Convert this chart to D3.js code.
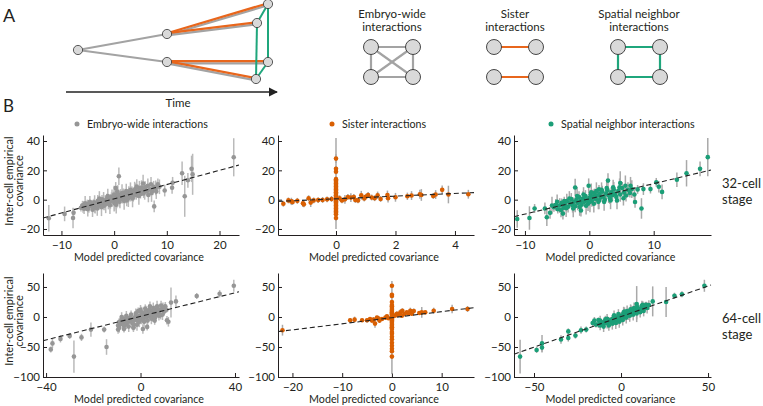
<!DOCTYPE html>
<html><head><meta charset="utf-8">
<script src="https://cdn.jsdelivr.net/npm/d3@7"></script>
<style>body{margin:0;background:#fff} text{font-family:Lato,"Open Sans",sans-serif;fill:#231f20}</style>
</head><body><svg id="c" width="763" height="406"></svg>
<script>
// ---------------- DATA ----------------
const seriesNames = ["Embryo-wide interactions","Sister interactions","Spatial neighbor interactions"];
const stageLabels = [["32-cell","stage"],["64-cell","stage"]];
const xTicks32 = [[-10,0,10,20],[0,2,4],[-10,0,10]];
const xTicks64 = [[-40,0,40],[-20,-10,0,10],[-50,0,50]];
const yTicks32 = [-20,0,20,40];
const yTicks64 = [-100,-50,0,50];
const xAxisTitle = "Model predicted covariance";
const yAxisTitle = ["Inter-cell empirical","covariance"];
// fitted lines [x0,y0,x1,y1]
const fits32 = [[-13.5,-12.5,23.7,23.6],[-1.95,-1.2,4.64,4.8],[-11.7,-11.6,18.9,20.2]];
const fits64 = [[-41.3,-39.5,41.7,42],[-22.9,-24.4,16.5,15.5],[-61.5,-62,51.7,53.3]];
// points: [model predicted, empirical, error half-length]
const embryo32 = [
[-12.4,-12.7,9],[-9.4,-9.7,5],[-7.8,-12.5,7],[-7.7,-9,3],
[-6.3,-5.5,2.5],[-6.0,-3.8,3],[-5.7,-6.2,3.5],[-5.4,-4.5,2.5],[-5.1,-3.0,3],[-4.8,-5.0,4],[-4.5,-2.8,2.5],[-4.3,-4.4,3],[-4.0,-3.5,3.5],[-3.8,-1.8,2.5],[-3.6,-5.5,4],[-3.3,-2.5,3],[-3.1,-0.8,4],[-2.9,-3.9,3],[-2.7,-1.5,2.5],[-2.5,-2.9,3.5],[-2.3,0.2,3],[-2.1,-2.0,4],[-1.9,-4.2,3],[-1.7,-0.5,3.5],[-1.5,-1.8,2.5],[-1.3,1.2,3],[-1.1,-2.6,4],[-0.9,0.0,3],[-0.7,-1.2,5],[-0.5,2.0,3],[-0.3,-0.4,4],[-0.1,1.5,3.5],[0.1,-2.5,4],[0.2,0.8,6],[0.3,8.0,4],[0.4,2.6,3],[0.5,-0.8,5],[0.6,5.5,4],[0.8,1.8,3],[0.9,16,6],[1.0,-1.5,3.5],[1.2,3.2,4],[1.4,0.6,3],[1.6,2.4,5],[1.8,4.6,3],[2.0,1.2,4],[2.2,3.5,3],[2.4,-0.5,4],[2.6,2.8,3],[2.8,5.2,4],[3.0,1.8,3],[3.2,4.0,5],[3.4,6.0,3],[3.6,2.5,4],[3.8,4.8,3],[4.0,7.2,4],[4.2,3.0,3],[4.5,5.5,4],[4.8,7.8,5],[5.0,3.8,3],[5.3,6.5,4],[5.5,11,6],[5.6,4.2,3],[5.9,8.5,4],[6.2,5.8,3],[6.5,3.2,5],[6.8,7.0,4],[7.0,10.5,5],[7.3,6.0,3],[7.6,-4.6,4],[7.9,8.0,5],[8.3,10.4,4],[9.6,6.2,4],
[-5.9,-5,4],[-5.5,-2.5,5],[-5.0,-6.5,5],[-4.6,-1.5,4],[-4.1,-6.8,5],[-3.7,-3.0,6],[-3.2,-6.0,5],[-2.8,0.8,5],[-2.4,-5.2,6],[-2.0,-0.8,6],[-1.6,-3.2,6],[-1.2,2.5,5],[-0.8,-3.8,6],[-0.4,1.0,6],[0.0,-1.0,7],[0.0,3.5,6],[0.1,0.5,8],[0.4,-3.5,6],[0.7,3.8,6],[1.1,0.2,6],[1.5,4.5,6],[1.9,-0.8,6],[2.3,5.8,5],[2.7,1.0,6],[3.1,6.8,5],[3.5,0.8,6],[3.9,6.2,6],[4.3,9.0,5],[4.7,2.5,6],[5.2,8.2,5],[5.8,6.0,6],[6.4,9.5,5],[7.1,4.5,6],[7.5,8.8,4],[8.0,5.5,5],[8.6,8.8,5],
[11,8.1,4],[11.1,11.5,4],[12.9,18,8],[13.4,2.3,14],[14,13.2,5],[14.7,21,9],[14.9,17.3,14],[22.7,28.9,13]];
const sister32 = [
[0,11,31],[0,28,3],[0,21,2],[0,19,2],[0,14,2],[0,13,2],[0,12,2],[0,10,2],[0,9,2],[0,8,2],[0,7,2],[0,6,2],[0,5,2],[0,4,2],[0,3,2],[0,2,2],[0,1,2],[0,0,2],[0,-1,2],[0,-2,2],[0,-3,2],[0,-4,2],[0,-5,2],[0,-6,2],[0,-7,2],[0,-8,2],[0,-9,2],[0,-10,2],[0,-12.5,2],
[-1.77,-2.8,2],[-1.6,-0.5,2],[-1.5,-1.2,2.5],[-1.46,-1.6,2],[-1.3,-0.8,2],[-1.11,-2.5,2.5],[-1.08,-3.2,2],[-0.92,1,2],[-0.85,-2,3],[-0.75,-0.5,2],[-0.6,-0.3,2],[-0.45,-0.2,2],[-0.3,0.2,2],[-0.15,0.5,2],[0.12,1,2],[0.2,-0.5,2],[0.3,0.2,3],[0.4,1.8,2],[0.5,1.4,3],[0.6,1.8,2],[0.65,-0.2,2],[0.74,-0.5,2],[0.85,3,3],[0.95,0.8,2],[1.0,2,2],[1.08,3.2,2],[1.2,1.5,2],[1.3,1,2],[1.4,3,2.5],[1.5,0.5,2],[1.73,3.2,3],[1.75,1,3],[2.0,1.6,3],[2.4,2.3,2.5],[2.54,2.8,3],[2.82,3.7,3],[2.87,3.2,4],[3.27,2.5,2],[3.35,3.5,3],[3.57,6.7,3],[3.78,3.5,6],[4.45,3.7,3]];
const spatial32 = [
[-11.2,-13.2,6],[-9.3,-12.5,8],[-8.5,-6,3],[-6.9,-6,4],[-6.6,-12,6],[-6.1,-9,4],[-5.8,-4,6],[-4.1,-9.5,4],[-3.9,-1,3],[-2.2,8.3,6],[-1.3,-7.4,4],[-0.1,9.5,5],[1.5,7,3],[2.9,13,5],[4.8,11.3,8],[6.4,9.5,6],[7.1,-1.6,4],[7.5,7,3],[8.1,-6,7],[8.4,7.2,4],[9.5,7.2,3],[10.4,11.8,3],[10.8,8.8,4],[11.3,5.3,5],[13.6,13.6,5],[15.1,18,9],[17.2,21,5],[18.4,29,13],
[-5.5,-5.2,3],[-5.2,-3.5,4],[-4.9,-6.5,3],[-4.6,-4.0,5],[-4.3,-2.2,3],[-4.0,-5.5,4],[-3.8,-3.2,3],[-3.5,-1.0,5],[-3.3,-4.8,4],[-3.0,-2.5,3],[-2.8,0.5,4],[-2.6,-3.8,5],[-2.4,-1.5,3],[-2.2,-4.5,4],[-2.0,0.0,3],[-1.8,-2.2,5],[-1.6,1.8,4],[-1.4,-1.0,3],[-1.2,-3.5,4],[-1.0,0.8,5],[-0.8,-1.5,3],[-0.6,2.5,4],[-0.4,-0.2,3],[-0.2,-2.8,5],[0.0,1.2,4],[0.2,3.5,3],[0.4,-0.8,4],[0.6,2.0,5],[0.8,4.5,3],[1.0,0.5,4],[1.2,2.8,3],[1.4,-1.5,5],[1.6,3.8,4],[1.8,1.5,3],[2.0,5.5,4],[2.2,2.2,5],[2.4,0.0,3],[2.6,4.2,4],[2.8,6.5,3],[3.0,2.8,5],[3.2,1.0,4],[3.4,5.0,3],[3.6,3.0,4],[3.8,7.0,5],[4.0,4.0,3],[4.2,1.8,4],[4.5,6.0,3],[4.8,3.5,5],[5.1,8.0,4],[5.4,5.0,3],[5.7,2.8,4],[6.0,6.8,5],[6.3,4.5,3],
[-5.0,-1.5,5],[-4.4,-7.0,5],[-3.6,-5.8,6],[-3.1,0.8,5],[-2.5,-6.0,6],[-1.9,2.5,6],[-1.5,-5.0,6],[-0.9,3.5,5],[-0.5,-4.2,6],[0.1,-1.5,7],[0.3,5.0,6],[0.7,-2.8,6],[1.1,5.8,6],[1.5,-0.5,6],[1.9,6.8,5],[2.3,-1.5,6],[2.7,8.0,6],[3.3,-0.5,6],[3.7,8.5,5],[4.3,-0.5,6],[4.7,8.5,6],[5.3,1.0,5],[5.6,9.5,7],[6.6,7.2,6],[7.0,3.5,5]];
const embryo64 = [
[-38,-54,5],[-37.3,-44,8],[-33.9,-36.5,6],[-30,-31.5,5],[-28.2,-66,27],[-25,-34,6],[-21,-21,12],[-15.4,-21,5],[-14.4,-50,13],[-9.5,-21,7],[1,-20,8],[2.8,-16.5,6],[-3,-17,6],[11.2,-5.5,7],[11.8,-8,8],[12.9,24,25],[15,26,10],[23.8,35,5],[33.5,38.7,6],[39.5,52,10],
[-9.5,-14,5],[-9,-8,6],[-8.5,-12,4],[-8,-5,7],[-7.5,-10,5],[-7,-3,6],[-6.5,-8,4],[-6,-12,8],[-5.5,-4,5],[-5,-8,6],[-4.5,-1,4],[-4,-6,7],[-3.5,-10,5],[-3,-2,6],[-2.5,-5,8],[-2,1,4],[-1.5,-3,6],[-1,-7,5],[-0.5,2,7],[0,-1,5],[0.3,-4,8],[0.6,4,6],[1,1,5],[1.3,-2,7],[1.6,6,4],[2,2,6],[2.4,-1,8],[2.8,5,5],[3.2,8,6],[3.6,1,7],[4,4,5],[4.4,10,6],[4.8,6,4],[5.2,0,8],[5.6,8,5],[6,12,7],[6.4,5,6],[6.8,9,5],[7.2,14,8],[7.6,7,5],[8,11,6],[8.5,3,7],[9,13,5],[9.5,16,8],[10,9,6],[10.5,18,7],[11,12,5],
[-9,-18,8],[-8,0,8],[-7,-15,9],[-6,2,8],[-5,-16,9],[-4,4,7],[-3,-12,10],[-2,6,8],[-1.5,-13,10],[-0.5,-8,9],[0.5,8,9],[1.5,-8,9],[2.2,11,8],[3,-6,10],[3.8,13,8],[4.6,-3,9],[5.4,15,9],[6.2,-1,8],[7,18,9],[7.8,2,8],[8.7,19,8],[9.3,4,9],[10.2,14,8],[0,12,8],[-1,10,6],[2,14,7],[4,18,8],[-3,-18,7],[-7,-20,6],[6,-6,7]];
const sister64 = [
[0,-17.5,77.5],[0,52,3],[0,37,3],[0,35,3],[0,25,3],[0,20,3],[0,18,3],[0,15,3],[0,12,3],[0,10,3],[0,8,3],[0,6,3],[0,4,3],[0,2,3],[0,0,3],[0,-2,3],[0,-4,3],[0,-6,3],[0,-8,3],[0,-10,3],[0,-13,3],[0,-15,3],[0,-18,3],[0,-20,3],[0,-25,3],[0,-28,3],[0,-33,3],[0,-37,3],[0,-43,3],[0,-48,3],[0,-53,3],[0,-57,3],[0,-66,3],
[-22,-22,9],[-8.4,-5.5,4],[-7.5,-4.4,5],[-6,-5.5,3],[-5,-5.5,4],[-4.4,-3.3,3],[-3.7,-4.4,4],[-3.4,-11,7],[-2.7,-2.5,4],[-2,-3.3,3],[-1.3,-1,4],[-0.7,-2,3],[0.5,2,3],[1,5.5,4],[1.7,7.7,5],[2.1,10.5,4],[3,7.7,3],[3.7,10.5,5],[4.4,10,4],[5.5,6.6,3],[6,7.7,9],[6.7,7.7,3],[8.4,10.5,5],[12.1,13.3,7],[15.2,13.3,5],
[0.8,3,3],[1.3,4,3],[2.5,5,4],[3.3,6,3],[4,5.5,3],[2,2,3],[-1,1,3],[-2.5,-6,4],[-3,-1,3],[-4,-6,3]];
const spatial64 = [
[-58,-66,28],[-48.5,-55,5],[-45.4,-51,8],[-45.4,-44,14],[-34.5,-37.5,7],[-30.3,-24,5],[-30.3,-35,6],[-26.2,-31,5],[-23,-22,6],[-20,-21,5],[-16.3,-10,5],[-15.3,-6,6],[-14.4,-12.7,5],[-13,-5,4],[9,21.5,30],[12.5,20.4,6],[14.4,20.4,5],[18.2,26,25],[25.9,24.9,25],[30.7,35.4,5],[35,38,5],[47.9,52,10],
[-13,-12,6],[-12,-14,8],[-11,-9,5],[-10,-12,7],[-9,-7,6],[-8,-10,9],[-7,-5,5],[-6,-8,7],[-5,-3,6],[-4.5,-7,8],[-4,-1,5],[-3,-5,7],[-2.5,-1,6],[-2,-4,9],[-1,0,5],[-0.5,-3,7],[0,2,6],[0.5,-1,8],[1,3,5],[1.5,0,7],[2,5,6],[2.5,2,8],[3,6,5],[3.5,3,7],[4,8,6],[4.5,4,9],[5,7,5],[5.5,10,7],[6,6,6],[6.5,9,8],[7,12,5],[7.5,8,7],[8,11,6],[8.5,14,8],[9,10,5],[10,13,7],[11,12,6],[12,16,8],[13,14,5],[14,18,7],
[-12,-6,8],[-10,-16,9],[-8,-3,8],[-7,-14,9],[-5,-11,10],[-4,3,8],[-3,-10,10],[-1.5,5,8],[-1,-8,10],[1,-5,9],[1.5,8,9],[3,-1,10],[3.5,10,9],[5,2,10],[5.5,13,8],[7,4,10],[7.5,15,9],[9,6,10],[9.5,16,8],[11,8,9],[12,19,8],[13,10,9],[15,15,9],[16,20,8],[-9,-4,6],[2,9,7],[6,12,7]];

// ---------------- STYLE / LAYOUT ----------------
const colors = ["#969696","#d95f02","#1b9e77"];
const barColors = ["#bababa","#a9a9a9","#a9a9a9"];
const axisColor = "#231f20";
const svg = d3.select("#c");

// ---------- Panel A ----------
svg.append("text").attr("x",3).attr("y",22).attr("font-size",18).text("A");
const nodeFill="#d9d9d9", nodeStroke="#333";
const treeNodes = {r:[78,50],m1:[167,34],m2:[167,62],l1:[268,4],l2:[257,23],l3:[268,62],l4:[256,79]};
const gA = svg.append("g");
const line = (a,b,c,w,dy=0)=>gA.append("line").attr("x1",a[0]).attr("y1",a[1]+dy).attr("x2",b[0]).attr("y2",b[1]+dy).attr("stroke",c).attr("stroke-width",w);
line(treeNodes.r,treeNodes.m1,"#a3a3a3",2);
line(treeNodes.r,treeNodes.m2,"#a3a3a3",2);
[["m1","l1"],["m1","l2"],["m2","l3"],["m2","l4"]].forEach(([a,b])=>{
  line(treeNodes[a],treeNodes[b],"#a3a3a3",2.2,1.3);
  line(treeNodes[a],treeNodes[b],"#e8661c",2.2,-0.8);
});
[["l1","l2"],["l2","l4"],["l1","l3"],["l3","l4"]].forEach(([a,b])=>line(treeNodes[a],treeNodes[b],"#1fa67c",2));
Object.values(treeNodes).forEach(p=>gA.append("circle").attr("cx",p[0]).attr("cy",p[1]).attr("r",4.6).attr("fill",nodeFill).attr("stroke",nodeStroke).attr("stroke-width",0.8));
// time arrow
svg.append("defs").append("marker").attr("id","ah").attr("viewBox","0 0 10 10").attr("refX",9).attr("refY",5)
  .attr("markerWidth",7).attr("markerHeight",7).attr("orient","auto").append("path").attr("d","M0,0L10,5L0,10z").attr("fill","#222");
svg.append("line").attr("x1",66).attr("y1",92).attr("x2",277).attr("y2",92).attr("stroke","#222").attr("stroke-width",1.3).attr("marker-end","url(#ah)");
svg.append("text").attr("x",178).attr("y",107).attr("text-anchor","middle").attr("font-size",11.5).text("Time");

// legend diagrams
const diag = [
  {cx:392,title:["Embryo-wide","interactions"],edges:[[0,1],[2,3],[0,2],[1,3],[0,3],[1,2]],col:"#a3a3a3"},
  {cx:515,title:["Sister","interactions"],edges:[[0,1],[2,3]],col:"#e8661c"},
  {cx:639,title:["Spatial neighbor","interactions"],edges:[[0,1],[2,3],[0,2],[1,3]],col:"#1fa67c"}];
diag.forEach(d=>{
  const pts=[[d.cx-21,47],[d.cx+21,47],[d.cx-21,77],[d.cx+21,77]];
  d.title.forEach((t,i)=>svg.append("text").attr("x",d.cx).attr("y",18+i*12.5).attr("text-anchor","middle").attr("font-size",11.5).text(t));
  d.edges.forEach(([a,b])=>svg.append("line").attr("x1",pts[a][0]).attr("y1",pts[a][1]).attr("x2",pts[b][0]).attr("y2",pts[b][1]).attr("stroke",d.col).attr("stroke-width",2.2));
  pts.forEach(p=>svg.append("circle").attr("cx",p[0]).attr("cy",p[1]).attr("r",7.5).attr("fill",nodeFill).attr("stroke",nodeStroke).attr("stroke-width",0.9));
});

// ---------- Panel B ----------
svg.append("text").attr("x",3).attr("y",112).attr("font-size",17).text("B");

const rows = [
  {data:[embryo32,sister32,spatial32], xt:xTicks32, yt:yTicks32, fits:fits32, yd:[-24.1,44.1], yr:[235,135],
   xd:[[-13.5,23.7],[-1.95,4.64],[-11.7,18.9]]},
  {data:[embryo64,sister64,spatial64], xt:xTicks64, yt:yTicks64, fits:fits64, yd:[-100,73.3], yr:[377,273],
   xd:[[-41.3,41.7],[-22.9,16.5],[-61.5,51.7]]}];
const colX = [[43,239],[278,474],[514,711]];
const fmt = d3.format("d");

rows.forEach((row,ri)=>{
  const y = d3.scaleLinear().domain(row.yd).range(row.yr);
  row.data.forEach((pts,ci)=>{
    const x = d3.scaleLinear().domain(row.xd[ci]).range(colX[ci]);
    const g = svg.append("g");
    // axes
    const ax = g.append("g").attr("transform",`translate(0,${row.yr[0]})`)
      .call(d3.axisBottom(x).tickValues(row.xt[ci]).tickFormat(fmt).tickSize(-4).tickSizeOuter(0).tickPadding(6));
    const ay = g.append("g").attr("transform",`translate(${colX[ci][0]},0)`)
      .call(d3.axisLeft(y).tickValues(row.yt).tickFormat(fmt).tickSize(-4).tickSizeOuter(0).tickPadding(3));
    [ax,ay].forEach(a=>{
      a.selectAll("path,line").attr("stroke",axisColor).attr("stroke-width",1);
      a.selectAll("text").attr("font-size",11.5).attr("font-family","Lato, sans-serif").attr("fill",axisColor);
    });
    // error bars
    g.append("g").selectAll("line").data(pts).join("line")
      .attr("x1",d=>x(d[0])).attr("x2",d=>x(d[0]))
      .attr("y1",d=>y(d[1]-d[2])).attr("y2",d=>y(d[1]+d[2]))
      .attr("stroke",barColors[ci]).attr("stroke-width",1.5);
    // dots
    g.append("g").selectAll("circle").data(pts).join("circle")
      .attr("cx",d=>x(d[0])).attr("cy",d=>y(d[1])).attr("r",2.3).attr("fill",colors[ci]);
    // fit
    const f = row.fits[ci];
    g.append("line").attr("x1",x(f[0])).attr("y1",y(f[1])).attr("x2",x(f[2])).attr("y2",y(f[3]))
      .attr("stroke","#222").attr("stroke-width",1.1).attr("stroke-dasharray","5,3");
    // x title
    const mid = (colX[ci][0]+colX[ci][1])/2;
    svg.append("text").attr("x",mid - 2).attr("y",row.yr[0]+26).attr("text-anchor","middle").attr("font-size",10.7).text(xAxisTitle);
    // legend (row 1 only)
    if(ri===0){
      const lx = [77,332,551][ci];
      svg.append("circle").attr("cx",lx).attr("cy",124).attr("r",2.5).attr("fill",colors[ci]);
      svg.append("text").attr("x",lx+10).attr("y",128).attr("font-size",10.7).text(seriesNames[ci]);
    }
  });
  // y title
  const yc = (row.yr[0]+row.yr[1])/2 - 4;
  yAxisTitle.forEach((t,i)=>svg.append("text").attr("transform",`translate(${13+i*10},${yc}) rotate(-90)`)
    .attr("text-anchor","middle").attr("font-size",11).text(t));
  // stage labels
  const sy = ri===0?188:323;
  stageLabels[ri].forEach((t,i)=>svg.append("text").attr("x",722).attr("y",sy+i*16).attr("font-size",13).text(t));
});
</script></body></html>
